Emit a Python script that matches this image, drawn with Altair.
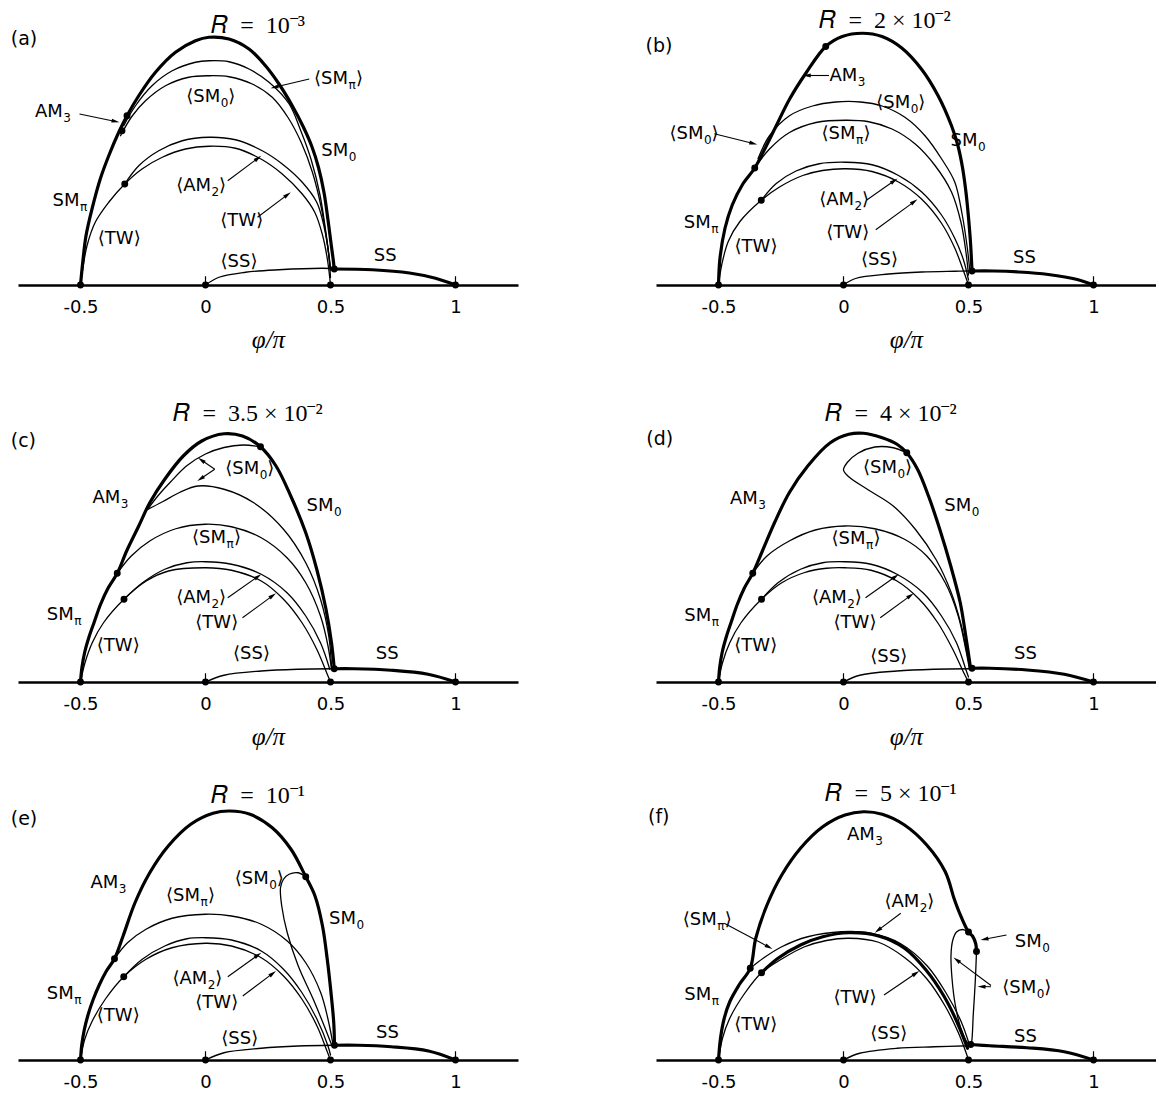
import math
import altair as alt
import pandas as pd

FONT = "DejaVu Sans"
SERIF = "Liberation Serif"
LB, RB = "\u27e8", "\u27e9"
SP = "\u2002"
RI = "\U0001D445"  # mathematical italic R

X_DOMAIN = [-0.75, 1.25]
X_TICKS = [-0.5, 0, 0.5, 1]
END_TICKS = [0.0, 1.0]
END_TICK_HEIGHT = 0.035
PX_PER_UNIT = 250
PANEL_W = 500
ROW_HEIGHTS = [255, 274, 255]

TITLES = [RI + SP + "=" + SP + "10⁻³", RI + SP + "=" + SP + "2 × 10⁻²",
          RI + SP + "=" + SP + "3.5 × 10⁻²", RI + SP + "=" + SP + "4 × 10⁻²",
          RI + SP + "=" + SP + "10⁻¹", RI + SP + "=" + SP + "5 × 10⁻¹"]
TAGS = ["(a)", "(b)", "(c)", "(d)", "(e)", "(f)"]

# ---------------- (a) R = 1e-3
A_OUTER = [(-0.5, 0), (-0.491, 0.091), (-0.478, 0.197), (-0.454, 0.304), (-0.421, 0.424),
           (-0.387, 0.517), (-0.347, 0.611), (-0.314, 0.677), (-0.267, 0.757), (-0.2, 0.851),
           (-0.12, 0.931), (-0.04, 0.977), (0.014, 0.991), (0.094, 0.984), (0.174, 0.944),
           (0.24, 0.877), (0.294, 0.804), (0.347, 0.717), (0.39, 0.635), (0.425, 0.555),
           (0.452, 0.47), (0.474, 0.37), (0.49, 0.26), (0.503, 0.16), (0.511, 0.1), (0.515, 0.064)]
A_ARCH2 = [(-0.327, 0.637), (-0.28, 0.717), (-0.214, 0.797), (-0.133, 0.857), (-0.04, 0.891),
           (0.014, 0.897), (0.094, 0.893), (0.174, 0.864), (0.254, 0.811), (0.334, 0.725),
           (0.38, 0.62), (0.423, 0.5), (0.458, 0.36), (0.483, 0.2), (0.5, 0.07)]
A_ARCH3 = [(-0.34, 0.597), (-0.294, 0.675), (-0.24, 0.737), (-0.16, 0.797), (-0.067, 0.831),
           (0.014, 0.837), (0.094, 0.833), (0.187, 0.804), (0.267, 0.751), (0.33, 0.67),
           (0.383, 0.57), (0.428, 0.45), (0.463, 0.31), (0.488, 0.16), (0.5, 0.06)]
A_AM2 = [(-0.323, 0.404), (-0.267, 0.477), (-0.187, 0.537), (-0.093, 0.577), (0.014, 0.591),
         (0.12, 0.581), (0.227, 0.537), (0.307, 0.484), (0.387, 0.411), (0.445, 0.331),
         (0.475, 0.23), (0.493, 0.12), (0.5, 0.03)]
A_TW = [(-0.5, 0), (-0.491, 0.064), (-0.474, 0.157), (-0.441, 0.251), (-0.387, 0.331),
        (-0.323, 0.404), (-0.254, 0.464), (-0.173, 0.511), (-0.08, 0.544), (0.014, 0.555),
        (0.12, 0.547), (0.227, 0.501), (0.307, 0.444), (0.387, 0.364), (0.437, 0.291),
        (0.468, 0.2), (0.488, 0.1), (0.5, 0)]
A_SS_THIN = [(0, 0), (0.054, 0.031), (0.16, 0.051), (0.294, 0.061), (0.467, 0.067), (0.5, 0.066)]
A_SS_THICK = [(0.515, 0.064), (0.668, 0.061), (0.816, 0.048), (0.92, 0.027), (1.0, 0)]
A_DOTS = [(-0.5, 0), (0, 0), (0.5, 0), (1, 0), (0.515, 0.064), (-0.314, 0.677),
          (-0.334, 0.617), (-0.323, 0.404)]
A_SUB = [("AM", "3", "", -0.571, 0.691), (LB + "SM", "0", RB, 0.059, 0.751),
         (LB + "SM", "π", RB, 0.57, 0.824), ("SM", "0", "", 0.571, 0.537),
         (LB + "AM", "2", RB, 0.022, 0.397), ("SM", "π", "", -0.504, 0.337)]
A_PLAIN = [(LB + "TW" + RB, 0.145, 0.257), (LB + "TW" + RB, -0.345, 0.184),
           (LB + "SS" + RB, 0.134, 0.091), ("SS", 0.719, 0.117)]
A_ARROWS = [(-0.504, 0.684, -0.344, 0.651), (0.415, 0.824, 0.26, 0.787),
            (0.089, 0.417, 0.223, 0.517), (0.208, 0.271, 0.341, 0.371)]

# ---------------- (b) R = 2e-2
B_OUTER = [(-0.5, 0), (-0.494, 0.108), (-0.474, 0.227), (-0.445, 0.32), (-0.405, 0.4),
           (-0.355, 0.468), (-0.312, 0.55), (-0.269, 0.637), (-0.216, 0.743), (-0.15, 0.848),
           (-0.071, 0.954), (-0.005, 0.994), (0.075, 1.007), (0.154, 0.994), (0.233, 0.948),
           (0.313, 0.862), (0.379, 0.756), (0.432, 0.637), (0.457, 0.56), (0.476, 0.47),
           (0.49, 0.37), (0.5, 0.27), (0.508, 0.17), (0.514, 0.056)]
B_SM0 = [(-0.342, 0.505), (-0.296, 0.597), (-0.216, 0.677), (-0.124, 0.716), (-0.031, 0.732),
         (0.068, 0.732), (0.154, 0.716), (0.247, 0.67), (0.326, 0.597), (0.392, 0.505),
         (0.445, 0.412), (0.475, 0.28), (0.495, 0.15), (0.505, 0.06)]
B_SMPI = [(-0.355, 0.468), (-0.296, 0.544), (-0.216, 0.61), (-0.11, 0.65), (0.009, 0.659),
          (0.101, 0.653), (0.194, 0.624), (0.287, 0.564), (0.366, 0.478), (0.432, 0.372),
          (0.47, 0.25), (0.49, 0.13), (0.5, 0.04)]
B_AM2 = [(-0.329, 0.339), (-0.269, 0.406), (-0.19, 0.456), (-0.097, 0.485), (0.009, 0.491),
         (0.114, 0.481), (0.22, 0.438), (0.313, 0.372), (0.392, 0.28), (0.445, 0.187),
         (0.48, 0.1), (0.5, 0.02)]
B_TW = [(-0.5, 0), (-0.487, 0.081), (-0.461, 0.174), (-0.415, 0.253), (-0.329, 0.339),
        (-0.256, 0.392), (-0.163, 0.438), (-0.084, 0.458), (0.009, 0.465), (0.114, 0.454),
        (0.22, 0.412), (0.313, 0.343), (0.392, 0.247), (0.445, 0.148), (0.475, 0.07), (0.5, 0)]
B_SS_THIN = [(0, 0), (0.048, 0.026), (0.181, 0.044), (0.313, 0.052), (0.445, 0.055), (0.505, 0.056)]
B_SS_THICK = [(0.514, 0.056), (0.601, 0.056), (0.702, 0.052), (0.819, 0.042), (0.935, 0.022), (1.0, 0)]
B_DOTS = [(-0.5, 0), (0, 0), (0.5, 0), (1, 0), (0.514, 0.056), (-0.071, 0.954),
          (-0.355, 0.468), (-0.329, 0.339)]
B_SUB = [("AM", "3", "", 0.055, 0.835), (LB + "SM", "0", RB, 0.267, 0.73),
         (LB + "SM", "π", RB, 0.048, 0.604), (LB + "AM", "2", RB, 0.042, 0.34),
         ("SM", "0", "", 0.536, 0.578), ("SM", "π", "", -0.531, 0.247),
         (LB + "SM", "0", RB, -0.56, 0.605)]
B_PLAIN = [(LB + "TW" + RB, 0.017, 0.208), (LB + "TW" + RB, -0.35, 0.152),
           (LB + "SS" + RB, 0.144, 0.102), ("SS", 0.724, 0.108)]
B_ARROWS = [(-0.058, 0.838, -0.163, 0.838), (0.093, 0.34, 0.216, 0.426),
            (0.129, 0.221, 0.296, 0.343), (-0.517, 0.605, -0.345, 0.562)]

# ---------------- (c) R = 3.5e-2
C_OUTER = [(-0.5, 0), (-0.494, 0.06), (-0.483, 0.12), (-0.466, 0.18), (-0.445, 0.24),
           (-0.42, 0.31), (-0.39, 0.375), (-0.353, 0.435), (-0.315, 0.525),
           (-0.267, 0.624), (-0.223, 0.717), (-0.163, 0.811),
           (-0.089, 0.904), (-0.015, 0.964), (0.074, 0.993), (0.148, 0.984), (0.22, 0.941),
           (0.282, 0.864), (0.341, 0.744), (0.401, 0.597), (0.445, 0.451), (0.482, 0.291),
           (0.504, 0.157), (0.515, 0.053)]
C_SM0_UPPER = [(0.22, 0.941), (0.15, 0.948), (0.074, 0.938), (0.0, 0.912), (-0.075, 0.865),
               (-0.14, 0.8), (-0.19, 0.745), (-0.232, 0.69)]
C_SM0_LOWER = [(-0.232, 0.69), (-0.17, 0.722), (-0.104, 0.758), (-0.03, 0.784), (0.074, 0.771),
               (0.193, 0.717), (0.312, 0.611), (0.401, 0.477), (0.46, 0.331), (0.493, 0.184),
               (0.504, 0.064)]
C_SMPI = [(-0.353, 0.435), (-0.297, 0.504), (-0.223, 0.564), (-0.119, 0.613), (0, 0.631),
          (0.104, 0.621), (0.223, 0.577), (0.326, 0.497), (0.401, 0.397), (0.46, 0.264),
          (0.49, 0.144), (0.504, 0.051)]
C_AM2 = [(-0.326, 0.331), (-0.252, 0.397), (-0.163, 0.451), (-0.074, 0.477), (0, 0.481),
         (0.104, 0.471), (0.223, 0.431), (0.326, 0.357), (0.401, 0.264), (0.46, 0.157),
         (0.497, 0.051)]
C_TW = [(-0.5, 0), (-0.482, 0.077), (-0.453, 0.157), (-0.408, 0.237), (-0.326, 0.331),
        (-0.237, 0.404), (-0.148, 0.444), (0, 0.457), (0.104, 0.447), (0.223, 0.404),
        (0.312, 0.331), (0.386, 0.237), (0.445, 0.131), (0.49, 0.024), (0.5, 0)]
C_SS_THIN = [(0, 0), (0.074, 0.027), (0.223, 0.044), (0.371, 0.051), (0.504, 0.053)]
C_SS_THICK = [(0.515, 0.053), (0.593, 0.053), (0.742, 0.047), (0.89, 0.031), (1.0, 0)]
C_DOTS = [(-0.5, 0), (0, 0), (0.5, 0), (1, 0), (0.515, 0.053), (0.22, 0.941),
          (-0.353, 0.435), (-0.326, 0.331)]
C_SUB = [("AM", "3", "", -0.341, 0.737), (LB + "SM", "0", RB, 0.215, 0.851),
         ("SM", "0", "", 0.512, 0.704), (LB + "SM", "π", RB, 0.082, 0.577),
         (LB + "AM", "2", RB, 0.022, 0.337), ("SM", "π", "", -0.527, 0.267)]
C_PLAIN = [(LB + "TW" + RB, 0.045, 0.237), (LB + "TW" + RB, -0.349, 0.144),
           (LB + "SS" + RB, 0.184, 0.111), ("SS", 0.727, 0.111)]
C_ARROWS = [(0.037, 0.851, -0.03, 0.897), (0.037, 0.851, -0.033, 0.804),
            (0.089, 0.337, 0.223, 0.431), (0.148, 0.257, 0.282, 0.355)]

# ---------------- (d) R = 4e-2
D_OUTER = [(-0.5, 0), (-0.495, 0.06), (-0.485, 0.12), (-0.469, 0.18), (-0.449, 0.24),
           (-0.425, 0.31), (-0.397, 0.375), (-0.363, 0.435), (-0.324, 0.525),
           (-0.276, 0.637), (-0.217, 0.757), (-0.143, 0.864),
           (-0.053, 0.957), (0.021, 0.991), (0.08, 0.995), (0.155, 0.977), (0.214, 0.951),
           (0.253, 0.917), (0.296, 0.851), (0.34, 0.744), (0.385, 0.611), (0.429, 0.464),
           (0.467, 0.317), (0.489, 0.184), (0.508, 0.057)]
D_SM0 = [(0.253, 0.917), (0.199, 0.937), (0.125, 0.94), (0.058, 0.915), (0.015, 0.878),
         (0.0, 0.848), (0.021, 0.821), (0.095, 0.771), (0.199, 0.704), (0.288, 0.61),
         (0.37, 0.49), (0.43, 0.36), (0.47, 0.23), (0.497, 0.1), (0.506, 0.053)]
D_SMPI = [(-0.363, 0.435), (-0.306, 0.504), (-0.217, 0.564), (-0.113, 0.608), (0.006, 0.624),
          (0.125, 0.613), (0.244, 0.571), (0.333, 0.504), (0.407, 0.397), (0.459, 0.264),
          (0.489, 0.131), (0.504, 0.051)]
D_AM2 = [(-0.328, 0.331), (-0.262, 0.397), (-0.172, 0.451), (-0.083, 0.477), (0.006, 0.481),
         (0.11, 0.471), (0.214, 0.431), (0.318, 0.357), (0.392, 0.264), (0.452, 0.157),
         (0.489, 0.051), (0.5, 0.02)]
D_TW = [(-0.5, 0), (-0.484, 0.077), (-0.455, 0.157), (-0.41, 0.237), (-0.328, 0.331),
        (-0.247, 0.397), (-0.158, 0.437), (-0.068, 0.455), (0.006, 0.457), (0.11, 0.447),
        (0.214, 0.404), (0.303, 0.331), (0.377, 0.237), (0.437, 0.131), (0.481, 0.037), (0.5, 0)]
D_SS_THIN = [(0, 0), (0.065, 0.027), (0.214, 0.044), (0.363, 0.051), (0.504, 0.053)]
D_SS_THICK = [(0.514, 0.055), (0.585, 0.055), (0.734, 0.048), (0.883, 0.031), (1.0, 0)]
D_DOTS = [(-0.5, 0), (0, 0), (0.5, 0), (1, 0), (0.514, 0.055), (0.253, 0.917),
          (-0.363, 0.435), (-0.328, 0.331)]
D_SUB = [("AM", "3", "", -0.343, 0.733), (LB + "SM", "0", RB, 0.214, 0.857),
         ("SM", "0", "", 0.511, 0.704), (LB + "SM", "π", RB, 0.088, 0.571),
         (LB + "AM", "2", RB, 0.013, 0.337), ("SM", "π", "", -0.529, 0.264)]
D_PLAIN = [(LB + "TW" + RB, 0.046, 0.237), (LB + "TW" + RB, -0.351, 0.144),
           (LB + "SS" + RB, 0.181, 0.101), ("SS", 0.728, 0.111)]
D_ARROWS = [(0.088, 0.337, 0.221, 0.431), (0.147, 0.257, 0.281, 0.355)]

# ---------------- (e) R = 1e-1
E_OUTER = [(-0.5, 0), (-0.495, 0.06), (-0.485, 0.12), (-0.47, 0.18), (-0.45, 0.24),
           (-0.425, 0.3), (-0.397, 0.355), (-0.364, 0.405), (-0.33, 0.495),
           (-0.282, 0.629), (-0.223, 0.749), (-0.149, 0.856),
           (-0.059, 0.943), (0.03, 0.987), (0.097, 0.996), (0.178, 0.983), (0.267, 0.929),
           (0.342, 0.843), (0.401, 0.733), (0.438, 0.656), (0.468, 0.536), (0.487, 0.403),
           (0.502, 0.269), (0.513, 0.149), (0.516, 0.059)]
E_SM0 = [(0.401, 0.733), (0.371, 0.749), (0.334, 0.743), (0.312, 0.723), (0.3, 0.689),
         (0.305, 0.616), (0.327, 0.509), (0.371, 0.376), (0.431, 0.243), (0.475, 0.136),
         (0.505, 0.059)]
E_SMPI = [(-0.364, 0.405), (-0.312, 0.469), (-0.238, 0.523), (-0.134, 0.567), (0, 0.583),
          (0.104, 0.576), (0.223, 0.543), (0.327, 0.476), (0.401, 0.389), (0.461, 0.269),
          (0.49, 0.163), (0.51, 0.063)]
E_AM2 = [(-0.327, 0.333), (-0.253, 0.403), (-0.163, 0.456), (-0.074, 0.485), (0, 0.489),
         (0.104, 0.48), (0.223, 0.436), (0.312, 0.363), (0.386, 0.269), (0.446, 0.163),
         (0.49, 0.056), (0.5, 0.02)]
E_TW = [(-0.5, 0), (-0.483, 0.083), (-0.453, 0.156), (-0.401, 0.243), (-0.327, 0.333),
        (-0.238, 0.403), (-0.134, 0.449), (0, 0.467), (0.104, 0.456), (0.223, 0.409),
        (0.312, 0.336), (0.386, 0.243), (0.446, 0.136), (0.486, 0.036), (0.5, 0)]
E_SS_THIN = [(0, 0), (0.074, 0.029), (0.223, 0.047), (0.371, 0.056), (0.51, 0.059)]
E_SS_THICK = [(0.516, 0.059), (0.609, 0.059), (0.743, 0.053), (0.892, 0.036), (1.0, 0)]
E_DOTS = [(-0.5, 0), (0, 0), (0.5, 0), (1, 0), (0.516, 0.059), (0.401, 0.733),
          (-0.364, 0.405), (-0.327, 0.333)]
E_SUB = [("AM", "3", "", -0.349, 0.707), (LB + "SM", "π", RB, -0.022, 0.656),
         (LB + "SM", "0", RB, 0.253, 0.723), ("SM", "0", "", 0.602, 0.563),
         (LB + "AM", "2", RB, 0.007, 0.323), ("SM", "π", "", -0.527, 0.263)]
E_PLAIN = [(LB + "TW" + RB, 0.045, 0.229), (LB + "TW" + RB, -0.349, 0.176),
           (LB + "SS" + RB, 0.137, 0.083), ("SS", 0.728, 0.109)]
E_ARROWS = [(0.089, 0.333, 0.223, 0.429), (0.149, 0.256, 0.282, 0.356)]

# ---------------- (f) R = 5e-1
F_OUTER = [(-0.5, 0), (-0.492, 0.087), (-0.477, 0.167), (-0.455, 0.233), (-0.418, 0.3),
           (-0.373, 0.367), (-0.351, 0.487), (-0.306, 0.62), (-0.247, 0.74), (-0.172, 0.847),
           (-0.083, 0.933), (0.006, 0.98), (0.08, 0.993), (0.155, 0.983), (0.244, 0.94),
           (0.333, 0.86), (0.407, 0.753), (0.443, 0.644), (0.463, 0.591), (0.5, 0.512),
           (0.516, 0.496), (0.529, 0.465), (0.532, 0.434)]
F_SM0_LOOP = [(0.5, 0.512), (0.476, 0.522), (0.452, 0.512), (0.437, 0.479), (0.43, 0.419),
              (0.434, 0.327), (0.447, 0.221), (0.469, 0.128), (0.496, 0.069), (0.509, 0.062)]
F_SM0_STEM = [(0.532, 0.434), (0.527, 0.313), (0.519, 0.181), (0.513, 0.075), (0.509, 0.062)]
F_SMPI = [(-0.373, 0.367), (-0.321, 0.407), (-0.247, 0.453), (-0.143, 0.493), (-0.009, 0.513),
          (0.11, 0.507), (0.229, 0.465), (0.336, 0.375), (0.412, 0.265), (0.47, 0.155),
          (0.504, 0.06)]
F_AM2 = [(-0.328, 0.349), (-0.262, 0.407), (-0.172, 0.46), (-0.083, 0.493), (0.021, 0.509),
         (0.14, 0.496), (0.244, 0.447), (0.33, 0.36), (0.402, 0.255), (0.455, 0.15),
         (0.496, 0.047)]
F_TW = [(-0.5, 0), (-0.484, 0.087), (-0.455, 0.167), (-0.395, 0.267), (-0.328, 0.349),
        (-0.247, 0.404), (-0.158, 0.452), (-0.068, 0.478), (0.021, 0.487), (0.14, 0.471),
        (0.244, 0.41), (0.333, 0.325), (0.407, 0.215), (0.459, 0.11), (0.489, 0.033), (0.5, 0)]
F_SS_THIN = [(0, 0), (0.065, 0.027), (0.214, 0.047), (0.363, 0.053), (0.504, 0.057)]
F_SS_THICK = [(0.509, 0.062), (0.585, 0.057), (0.734, 0.049), (0.883, 0.033), (1.0, 0)]
F_DOTS = [(-0.5, 0), (0, 0), (0.5, 0), (1, 0), (0.509, 0.062), (0.5, 0.512),
          (0.532, 0.434), (-0.373, 0.367), (-0.328, 0.349)]
F_SUB = [("AM", "3", "", 0.125, 0.9), (LB + "AM", "2", RB, 0.303, 0.633),
         (LB + "SM", "π", RB, -0.507, 0.56), ("SM", "0", "", 0.793, 0.471),
         (LB + "SM", "0", RB, 0.771, 0.287), ("SM", "π", "", -0.529, 0.26)]
F_PLAIN = [(LB + "TW" + RB, 0.046, 0.247), (LB + "TW" + RB, -0.351, 0.14),
           (LB + "SS" + RB, 0.181, 0.103), ("SS", 0.728, 0.093)]
F_ARROWS = [(0.229, 0.587, 0.125, 0.509), (-0.477, 0.547, -0.284, 0.444),
            (0.652, 0.5, 0.548, 0.48), (0.59, 0.298, 0.44, 0.41),
            (0.59, 0.293, 0.536, 0.294), (0.162, 0.26, 0.303, 0.356)]

PANELS = [
    dict(curves=[("thick", A_OUTER), ("thin", A_ARCH2), ("thin", A_ARCH3), ("thin", A_AM2),
                 ("thin", A_TW), ("thin", A_SS_THIN), ("thick", A_SS_THICK)],
         dots=A_DOTS, sub=A_SUB, plain=A_PLAIN, arrows=A_ARROWS),
    dict(curves=[("thick", B_OUTER), ("thin", B_SM0), ("thin", B_SMPI), ("thin", B_AM2),
                 ("thin", B_TW), ("thin", B_SS_THIN), ("thick", B_SS_THICK)],
         dots=B_DOTS, sub=B_SUB, plain=B_PLAIN, arrows=B_ARROWS),
    dict(curves=[("thick", C_OUTER), ("thin", C_SM0_UPPER), ("thin", C_SM0_LOWER),
                 ("thin", C_SMPI), ("thin", C_AM2), ("thin", C_TW), ("thin", C_SS_THIN),
                 ("thick", C_SS_THICK)],
         dots=C_DOTS, sub=C_SUB, plain=C_PLAIN, arrows=C_ARROWS),
    dict(curves=[("thick", D_OUTER), ("thin", D_SM0), ("thin", D_SMPI), ("thin", D_AM2),
                 ("thin", D_TW), ("thin", D_SS_THIN), ("thick", D_SS_THICK)],
         dots=D_DOTS, sub=D_SUB, plain=D_PLAIN, arrows=D_ARROWS),
    dict(curves=[("thick", E_OUTER), ("thin", E_SM0), ("thin", E_SMPI), ("thin", E_AM2),
                 ("thin", E_TW), ("thin", E_SS_THIN), ("thick", E_SS_THICK)],
         dots=E_DOTS, sub=E_SUB, plain=E_PLAIN, arrows=E_ARROWS),
    dict(curves=[("thick", F_OUTER), ("thin", F_SM0_LOOP), ("thin", F_SM0_STEM),
                 ("thin", F_SMPI), ("thick", F_AM2), ("thin", F_TW), ("thin", F_SS_THIN),
                 ("thick", F_SS_THICK)],
         dots=F_DOTS, sub=F_SUB, plain=F_PLAIN, arrows=F_ARROWS),
]

# layout of the annotations (not data)
TAG_POS = [(-0.779, 0.984), (-0.792, 0.955), (-0.779, 0.964),
           (-0.789, 0.971), (-0.779, 0.963), (-0.782, 0.973)]
TITLE_DX = [-10, -21, -20, -15, -10, -15]
TITLE_OFFSET = [-27, -22, -37, -37, -21.5, -20]
SHOW_XTITLE = [True, True, True, True, False, False]

ARROW_HEAD = "M0,-1L-0.5,1L0.5,1Z"
HEAD_BACK = 4.0 / PX_PER_UNIT  # half head length in data units


def arrow_frames(arrows):
    shafts, heads = [], []
    for (x0, y0, x1, y1) in arrows:
        dx, dy = x1 - x0, y1 - y0
        L = math.hypot(dx, dy)
        ux, uy = dx / L, dy / L
        cx, cy = x1 - ux * HEAD_BACK, y1 - uy * HEAD_BACK
        shafts.append(dict(x=x0, y=y0, x2=cx, y2=cy))
        heads.append(dict(x=cx, y=cy, ang=math.degrees(math.atan2(dx, dy)) % 360))
    return pd.DataFrame(shafts), pd.DataFrame(heads)


def make_panel(i):
    p = PANELS[i]
    row = i // 2
    h = ROW_HEIGHTS[row]
    ymax = h / PX_PER_UNIT
    xsc = alt.Scale(domain=X_DOMAIN, nice=False, zero=False)
    ysc = alt.Scale(domain=[0, ymax], nice=False, zero=False)
    xaxis = alt.Axis(
        values=X_TICKS, title="φ/π" if SHOW_XTITLE[i] else "",
        titleFont=SERIF, titleFontStyle="italic", titleFontWeight="normal",
        titleFontSize=25, titleColor="black", titlePadding=11,
        labelFont=FONT, labelFontSize=18, labelColor="black", labelPadding=13,
        ticks=False, tickSize=0, grid=False, domainColor="black", domainWidth=2.6,
        labelExpr="datum.value < 0 ? '-' + format(-datum.value, '') : format(datum.value, '')",
        labelFlush=False, labelOverlap=False)
    X = alt.X("x:Q", scale=xsc, axis=xaxis)
    Y = alt.Y("y:Q", scale=ysc, axis=None)

    rows = []
    for ci, (kind, pts) in enumerate(p["curves"]):
        for j, (x, y) in enumerate(pts):
            rows.append(dict(curve=ci, ord=j, x=x, y=y, kind=kind))
    cdf = pd.DataFrame(rows)
    lines = alt.Chart(cdf).mark_line(
        interpolate="catmull-rom", color="black", strokeCap="round", strokeJoin="round"
    ).encode(
        x=X, y=Y, detail="curve:N", order="ord:Q",
        strokeWidth=alt.StrokeWidth("kind:O", scale=alt.Scale(domain=["thick", "thin"], range=[3.2, 1.3]), legend=None),
    )

    tdf = pd.DataFrame([dict(x=t, y=0.0, y2=END_TICK_HEIGHT) for t in END_TICKS])
    ticks = alt.Chart(tdf).mark_rule(color="black", strokeWidth=1.2).encode(x=X, y=Y, y2="y2:Q")

    ddf = pd.DataFrame(p["dots"], columns=["x", "y"])
    dots = alt.Chart(ddf).mark_circle(size=48, color="black", opacity=1).encode(x=X, y=Y)

    sdf_shaft, sdf_head = arrow_frames(p["arrows"])
    shafts = alt.Chart(sdf_shaft).mark_rule(color="black", strokeWidth=1.1).encode(
        x=X, y=Y, x2="x2:Q", y2="y2:Q")
    heads = alt.Chart(sdf_head).mark_point(
        shape=ARROW_HEAD, filled=True, size=64, color="black", opacity=1, strokeWidth=0
    ).encode(x=X, y=Y, angle=alt.Angle("ang:Q", scale=None))

    ldf = pd.DataFrame(p["sub"], columns=["main", "sub", "suf", "x", "y"])
    lbase = alt.Chart(ldf).encode(x=X, y=Y)
    main = lbase.mark_text(align="right", baseline="middle", font=FONT, fontSize=18,
                           color="black").encode(text="main:N")
    sub = lbase.mark_text(align="left", baseline="middle", font=FONT, fontSize=12, dx=0.5,
                          dy=6, color="black").encode(text="sub:N")
    suf = lbase.mark_text(align="left", baseline="middle", font=FONT, fontSize=18, dx=8,
                          color="black").encode(text="suf:N")

    pdf = pd.DataFrame(p["plain"], columns=["t", "x", "y"])
    plain = alt.Chart(pdf).mark_text(align="center", baseline="middle", font=FONT,
                                     fontSize=18, color="black").encode(x=X, y=Y, text="t:N")

    tx, ty = TAG_POS[i]
    gdf = pd.DataFrame([dict(t=TAGS[i], x=tx, y=ty)])
    tag = alt.Chart(gdf).mark_text(align="left", baseline="middle", font=FONT, fontSize=19,
                                   color="black").encode(x=X, y=Y, text="t:N")

    return alt.layer(lines, ticks, shafts, heads, dots, main, sub, suf, plain, tag).properties(
        width=PANEL_W, height=h,
        title=alt.TitleParams(text=TITLES[i], font=SERIF, fontSize=24, fontWeight="normal",
                              color="black", anchor="middle", frame="group",
                              offset=TITLE_OFFSET[i], dx=TITLE_DX[i], baseline="alphabetic"),
    )


chart = alt.concat(
    *[make_panel(i) for i in range(6)],
    columns=2, spacing={"row": 123, "column": 138}, bounds="flush", align="each",
).properties(
    padding={"left": 10, "top": 9, "right": 0, "bottom": 0}, background="white"
).configure_view(stroke=None)

chart.save("out.html", embed_options={"renderer": "svg", "actions": False})
